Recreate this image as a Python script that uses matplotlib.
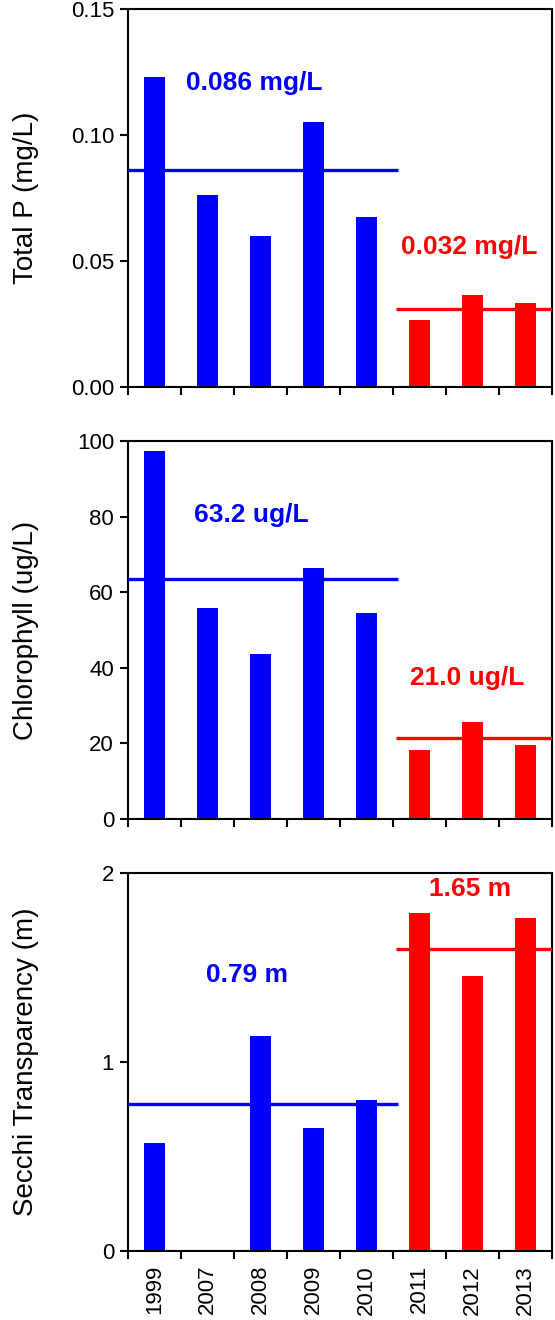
import numpy as np
import matplotlib
matplotlib.use("Agg")
import matplotlib.pyplot as plt

plt.rcParams['font.family'] = ['Liberation Sans', 'DejaVu Sans']

# data
years = ['1999', '2007', '2008', '2009', '2010', '2011', '2012', '2013']
total_p = [0.123, 0.076, 0.060, 0.105, 0.0675, 0.0265, 0.0365, 0.0333]
chloro = [97.4, 55.8, 43.7, 66.4, 54.5, 18.3, 25.7, 19.6]
secchi = [0.57, np.nan, 1.14, 0.65, 0.80, 1.79, 1.455, 1.76]

# period means (line level, label text)
tp_means = [0.086, 0.031]
tp_labels = ['0.086 mg/L', '0.032 mg/L']
chl_means = [63.4, 21.5]
chl_labels = ['63.2 ug/L', '21.0 ug/L']
sec_means = [0.78, 1.60]
sec_labels = ['0.79 m', '1.65 m']

n_before = 5  # 1999-2010 blue, 2011-2013 red
bar_colors = ['#0000FF'] * n_before + ['#FF0000'] * (len(years) - n_before)
line_colors = ['#0000FF', '#FF0000']

W, H = 555, 1320
fig = plt.figure(figsize=(W / 100, H / 100), dpi=100)

# axes boxes in pixels: (top, bottom)
boxes = [(9, 387), (441, 819), (873, 1251)]
left, right = 128, 552

panels = [
    (total_p, tp_means, tp_labels, 'Total P (mg/L)', (0, 0.15),
     [0, 0.05, 0.10, 0.15], ['0.00', '0.05', '0.10', '0.15'],
     [(1.88, 0.1206), (5.94, 0.0556)]),
    (chloro, chl_means, chl_labels, 'Chlorophyll (ug/L)', (0, 100),
     [0, 20, 40, 60, 80, 100], ['0', '20', '40', '60', '80', '100'],
     [(1.82, 80.4), (5.9, 37.3)]),
    (secchi, sec_means, sec_labels, 'Secchi Transparency (m)', (0, 2),
     [0, 1, 2], ['0', '1', '2'],
     [(1.75, 1.46), (5.95, 1.915)]),
]

x = np.arange(len(years))
for i, (vals, means, labels, ylab, ylim, yt, ytl, txtpos) in enumerate(panels):
    top, bot = boxes[i]
    ax = fig.add_axes([left / W, 1 - bot / H, (right - left) / W, (bot - top) / H])
    ax.bar(x, vals, width=0.4, color=bar_colors, zorder=2)

    # mean lines
    ax.hlines(means[0], -0.5, 4.59, color=line_colors[0], lw=2.4, zorder=3)
    ax.hlines(means[1], 4.55, 7.5, color=line_colors[1], lw=2.4, zorder=3)
    for (tx, ty), lab, c in zip(txtpos, labels, line_colors):
        ax.text(tx, ty, lab, color=c, fontsize=19, fontweight='bold',
                ha='center', va='center')

    ax.set_xlim(-0.5, 7.5)
    ax.set_ylim(*ylim)
    ax.set_yticks(yt)
    ax.set_yticklabels(ytl, fontsize=16)
    ax.set_xticks(np.arange(-0.5, 8, 1))
    ax.set_xticklabels([])
    ax.set_xticks(x, minor=True)
    if i == 2:
        ax.set_xticklabels(years, minor=True, rotation=90, fontsize=16)
    ax.tick_params(axis='both', which='major', direction='out', length=6,
                   width=1.5, pad=4)
    ax.tick_params(axis='x', which='minor', length=0, pad=10)
    for s in ax.spines.values():
        s.set_linewidth(1.5)

    ax.set_ylabel(ylab, fontsize=20)
    ax.yaxis.set_label_coords(-0.21, 0.5)

fig.savefig('out.png', dpi=100)
